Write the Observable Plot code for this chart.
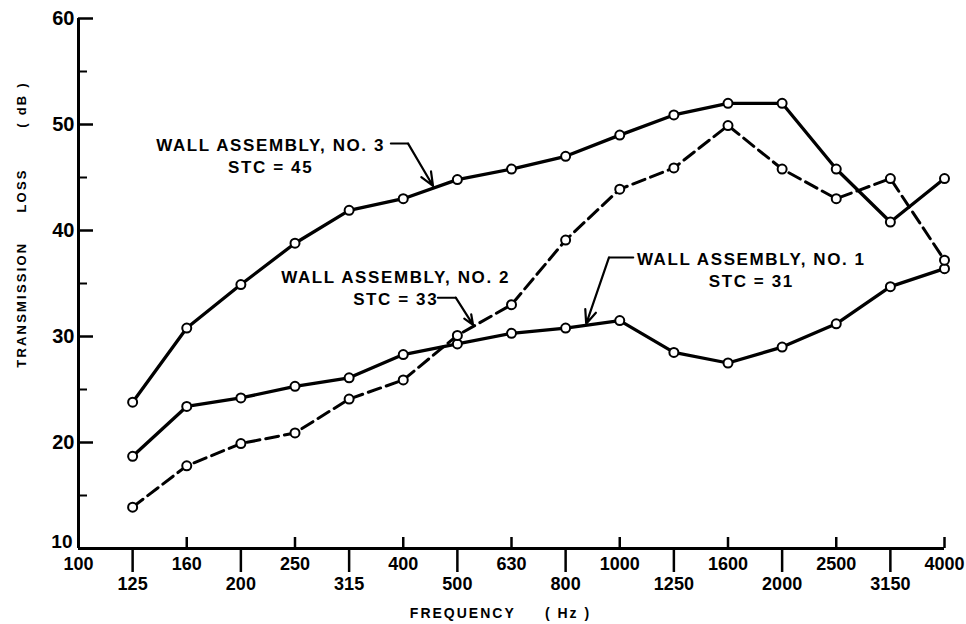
<!DOCTYPE html>
<html>
<head>
<meta charset="utf-8">
<script src="https://cdn.jsdelivr.net/npm/d3@7"></script>
<script src="https://cdn.jsdelivr.net/npm/@observablehq/plot@0.6"></script>
<style>
  html, body { margin: 0; padding: 0; background: #fff; }
  svg text { white-space: pre; }
</style>
</head>
<body>
<div id="chart"></div>
<script>
// One-third-octave band centre frequencies (Hz), axis order
const frequencies = ["100","125","160","200","250","315","400","500","630","800","1000","1250","1600","2000","2500","3150","4000"];
const topRowLabels = ["100","160","250","400","630","1000","1600","2500","4000"];
const bottomRowLabels = ["125","200","315","500","800","1250","2000","3150"];
const measuredFrequencies = ["125","160","200","250","315","400","500","630","800","1000","1250","1600","2000","2500","3150","4000"];

// Transmission loss (dB)
const wall1 = [18.7, 23.4, 24.2, 25.3, 26.1, 28.3, 29.3, 30.3, 30.8, 31.5, 28.5, 27.5, 29.0, 31.2, 34.7, 36.4];
const wall2 = [13.9, 17.8, 19.9, 20.9, 24.1, 25.9, 30.1, 33.0, 39.1, 43.9, 45.9, 49.9, 45.8, 43.0, 44.9, 37.2];
const wall3 = [23.8, 30.8, 34.9, 38.8, 41.9, 43.0, 44.8, 45.8, 47.0, 49.0, 50.9, 52.0, 52.0, 45.8, 40.8, 44.9];

const majorTicksY = [10, 20, 30, 40, 50, 60];
const minorTicksY = [15, 25, 35, 45, 55];

const yTitle = "TRANSMISSION     LOSS       ( dB )";
const xTitle = "FREQUENCY     ( Hz )";

// Annotations (position in band index / dB)
const annotationLabels = ["WALL ASSEMBLY, NO. 3\nSTC = 45", "WALL ASSEMBLY, NO. 2\nSTC = 33", "WALL ASSEMBLY, NO. 1\nSTC = 31"];
const annotationX = [3.55, 5.86, 12.43];
const annotationY = [47.17, 34.7, 36.4];
const leaderStartX = [5.77, 6.64, 10.25];
const leaderBendX = [6.09, 6.97, 9.80];
const leaderY = [48.2, 33.66, 37.45];
const arrowTipX = [6.55, 7.29, 9.38];
const arrowTipY = [44.2, 31.1, 31.2];

const idx = f => frequencies.indexOf(f);
const series = (vals) => measuredFrequencies.map((f, i) => ({x: idx(f), y: vals[i]}));
const s1 = series(wall1), s2 = series(wall2), s3 = series(wall3);
const topIdx = topRowLabels.map(idx);
const bottomIdx = bottomRowLabels.map(idx);
const annotations = annotationLabels.map((t, i) => ({t, x: annotationX[i], y: annotationY[i]}));
const leaders = annotationLabels.flatMap((t, i) => [
  {k: i, x: leaderStartX[i], y: leaderY[i]},
  {k: i, x: leaderBendX[i], y: leaderY[i]}
]);
const arrows = annotationLabels.map((t, i) => ({x1: leaderBendX[i], y1: leaderY[i], x2: arrowTipX[i], y2: arrowTipY[i]}));
const fmt = i => frequencies[i];

const font = "'Liberation Sans', Arial, sans-serif";

const chart = Plot.plot({
  width: 966,
  height: 624,
  marginLeft: 78,
  marginRight: 22,
  marginTop: 18,
  marginBottom: 76,
  x: {type: "linear", domain: [0, 16], axis: null, label: null},
  y: {domain: [10, 60], axis: null, label: null},
  style: {fontFamily: font, fontWeight: "bold", color: "#000", background: "#fff"},
  marks: [
    // axes
    Plot.axisX(topIdx, {tickSize: 0, tickPadding: 9, tickFormat: fmt, fontSize: 18, label: null}),
    Plot.axisX(topIdx, {tickSize: 11, dy: -11, tickFormat: () => "", strokeWidth: 2.5, label: null}),
    Plot.axisX(bottomIdx, {tickSize: 24, tickPadding: 5, tickFormat: fmt, fontSize: 18, strokeWidth: 2.5, label: null}),
    Plot.axisY(majorTicksY.filter(v => v > 10), {tickSize: 0, tickPadding: 4, fontSize: 20, label: null}),
    Plot.axisY(majorTicksY.filter(v => v === 10), {tickSize: 0, tickPadding: 6, dy: -7, fontSize: 19, label: null}),
    Plot.axisY(majorTicksY, {tickSize: 15, dx: 15, tickFormat: () => "", strokeWidth: 2.5, label: null}),
    Plot.axisY(minorTicksY, {tickSize: 9, dx: 9, tickFormat: () => "", strokeWidth: 2, label: null}),
    Plot.ruleY([10], {strokeWidth: 3}),
    Plot.ruleX([0], {strokeWidth: 3}),
    // titles
    Plot.text([yTitle], {text: d => d, frameAnchor: "left", textAnchor: "middle", dx: -57, dy: -59, rotate: -90, fontSize: 13, fontWeight: "bold"}),
    Plot.text([xTitle], {text: d => d, frameAnchor: "bottom", textAnchor: "middle", dx: -11, dy: 69, fontSize: 14, fontWeight: "bold"}),
    // data
    Plot.line(s3, {x: "x", y: "y", stroke: "black", strokeWidth: 3.3}),
    Plot.line(s1, {x: "x", y: "y", stroke: "black", strokeWidth: 3.3}),
    Plot.line(s2, {x: "x", y: "y", stroke: "black", strokeWidth: 3, strokeDasharray: "13,6"}),
    Plot.dot(s3, {x: "x", y: "y", r: 4.5, fill: "white", stroke: "black", strokeWidth: 2}),
    Plot.dot(s1, {x: "x", y: "y", r: 4.5, fill: "white", stroke: "black", strokeWidth: 2}),
    Plot.dot(s2, {x: "x", y: "y", r: 4.5, fill: "white", stroke: "black", strokeWidth: 2}),
    // annotations
    Plot.text(annotations, {x: "x", y: "y", text: "t", fontSize: 17, fontWeight: "bold", lineHeight: 1.3, textAnchor: "middle"}),
    Plot.line(leaders, {x: "x", y: "y", z: "k", stroke: "black", strokeWidth: 2}),
    Plot.arrow(arrows, {x1: "x1", y1: "y1", x2: "x2", y2: "y2", stroke: "black", strokeWidth: 2.2, headLength: 10, headAngle: 45})
  ]
});

const textGroups = d3.select(chart).selectAll("g[aria-label='text']").nodes();
const spacings = ["2.2px", "2px", "1.6px"];
textGroups.forEach((g, i) => d3.select(g).selectAll("text").style("letter-spacing", spacings[i] || "1.6px"));
document.getElementById("chart").appendChild(chart);
</script>
</body>
</html>
